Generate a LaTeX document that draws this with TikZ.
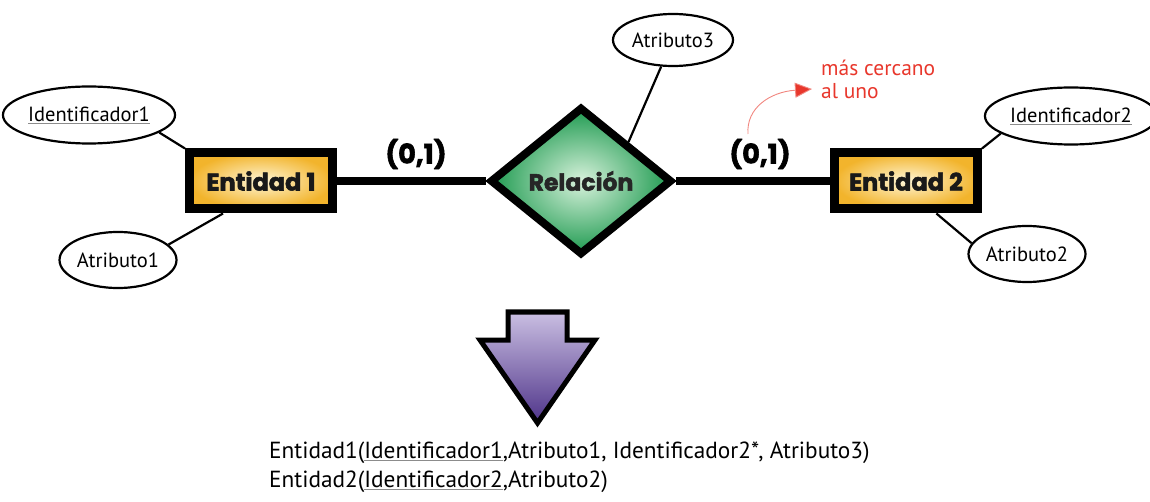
\documentclass[tikz,border=0pt]{standalone}
\usepackage{fontspec}
\setmainfont{PT Sans}
\newfontfamily\heavyfont{Poppins}[BoldFeatures={FakeBold=2.2}]
\usetikzlibrary{shapes.geometric,calc,arrows.meta}
\definecolor{boxout}{HTML}{F2B42C}
\definecolor{boxin}{HTML}{FFF6D6}
\definecolor{relout}{HTML}{1E9A50}
\definecolor{relin}{HTML}{D8F2DC}
\definecolor{arrtop}{HTML}{CABFE2}
\definecolor{arrbot}{HTML}{4E3389}
\definecolor{notered}{HTML}{E8372C}
\newcommand{\undl}[1]{{\color{black!45}\underline{\textcolor{black}{#1}}}}
\begin{document}
\begin{tikzpicture}[x=1pt,y=-1pt,
  attr/.style={ellipse, draw, line width=2.2pt, fill=white, inner sep=0pt,
    font=\fontsize{20.5}{24}\selectfont},
  entity/.style={rectangle, draw, line width=9pt, inner sep=0pt,
    minimum width=143pt, minimum height=56pt, inner color=boxin, outer color=boxout,
    text=black!90, font=\heavyfont\bfseries\fontsize{24}{28}\selectfont},
  relation/.style={diamond, draw, line width=8pt, inner sep=0pt, aspect=1.2,
    minimum width=182pt, minimum height=148pt, inner color=relin, outer color=relout,
    text=black!85, font=\heavyfont\bfseries\fontsize{23.5}{28}\selectfont},
  card/.style={font=\heavyfont\bfseries\fontsize{27}{30}\selectfont},
  thin/.style={line width=2.2pt},
  thick/.style={line width=8pt},
  note/.style={text=notered, font=\fontsize{21.5}{23}\selectfont, align=left},
  notearrow/.style={draw=notered!60, line width=0.9pt, -{Triangle[length=17pt,width=15pt,fill=notered]}}
]
\useasboundingbox (0,0) rectangle (1150,502);

% entities and relation
\node[entity] (e1) at (261,181) {Entidad 1};
\node[entity] (e2) at (906,181) {Entidad 2};
\node[relation] (rel) at (581,181) {Relación};

% attributes
\node[attr, minimum width=160pt, minimum height=57pt] (id1) at (89,115) {\undl{Identificador1}};
\node[attr, minimum width=117pt, minimum height=56pt] (a1) at (118,260) {Atributo1};
\node[attr, minimum width=120pt, minimum height=52pt] (a3) at (673,40) {Atributo3};
\node[attr, minimum width=152pt, minimum height=57pt] (id2) at (1071,116) {\undl{Identificador2}};
\node[attr, minimum width=117pt, minimum height=56pt] (a2) at (1027,254) {Atributo2};

% attribute connectors
\draw[thin] (id1.-14) -- (e1.north west);
\draw[thin] (a1.17) -- ($(e1.south west)!0.25!(e1.south east)$);
\draw[thin] (a3.246) -- ($(rel.north)!0.5!(rel.east)$);
\draw[thin] (id2.194) -- (e2.north east);
\draw[thin] (a2.169) -- ($(e2.south west)!0.7!(e2.south east)$);

% relationship lines
\draw[thick] (e1) -- (rel);
\draw[thick] (rel) -- (e2);

% cardinalities
\node[card] (c1) at (416,154) {(0,1)};
\node[card] (c2) at (760,154) {(0,1)};

% note
\coordinate (ns) at (748,134);
\coordinate (ne) at (812,89);
\draw[notearrow] (ns) .. controls (746,108) and (770,92) .. (ne);
\node[note, anchor=north west, inner sep=0pt] (nt) at (821,60) {más cercano\\al uno};

% down arrow
\draw[line width=5pt, line join=miter, top color=arrtop, bottom color=arrbot]
  (508,312) -- (567,312) -- (567,340) -- (595,340) -- (537.5,423) -- (480,340) -- (508,340) -- cycle;

% resulting schema
\node[anchor=west, align=left, inner sep=0pt, font=\fontsize{23.3}{29}\selectfont] (schema) at (269,467)
  {Entidad1(\undl{Identificador1},Atributo1, Identificador2*, Atributo3)\\
   Entidad2(\undl{Identificador2},Atributo2)};
\end{tikzpicture}
\end{document}
